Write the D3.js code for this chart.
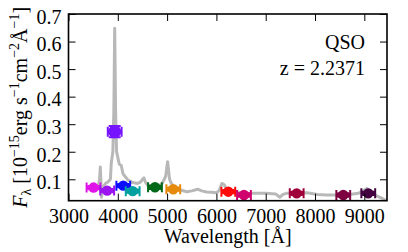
<!DOCTYPE html>
<html>
<head>
<meta charset="utf-8">
<script src="https://cdn.jsdelivr.net/npm/d3@7"></script>
</head>
<body style="margin:0">
<svg width="408" height="252"></svg>
<script>
/*global d3*/

// spectrum
var specWave = [3560, 3600, 3630, 3645, 3660, 3668, 3700, 3750, 3800, 3850, 3868, 3900, 3920, 3937, 3955,
  3975, 4030, 4070, 4105, 4207, 4300, 4400, 4460, 4500, 4530, 4560, 4600, 4700, 4800, 4900, 4970, 5010,
  5050, 5080, 5150, 5270, 5400, 5500, 5620, 5700, 5800, 5900, 6000, 6060, 6110, 6160, 6200, 6300, 6400,
  6500, 6700, 7000, 7200, 7290, 7350, 7420, 7600, 7830, 7900, 8050, 8240, 8500, 8700, 8880, 8950, 9050,
  9150, 9250, 9350, 9420, 9460]
var specFlux = [0.060, 0.070, 0.100, 0.145, 0.080, 0.035, 0.070, 0.085, 0.090, 0.100, 0.160, 0.200, 0.350, 0.648, 0.350,
  0.200, 0.155, 0.150, 0.120, 0.097, 0.088, 0.085, 0.090, 0.100, 0.105, 0.090, 0.079, 0.075, 0.072, 0.085, 0.110, 0.164,
  0.100, 0.087, 0.070, 0.061, 0.055, 0.058, 0.064, 0.058, 0.054, 0.053, 0.051, 0.060, 0.085, 0.080, 0.065, 0.058, 0.055,
  0.050, 0.049, 0.049, 0.047, 0.035, 0.045, 0.049, 0.050, 0.051, 0.049, 0.045, 0.043, 0.043, 0.045, 0.049, 0.055, 0.067,
  0.055, 0.040, 0.032, 0.025, 0.020]

// photometric points
var photWave = [3507, 3785, 3937, 4111, 4302, 4754, 5125, 6241, 6559, 7628, 8573, 9080]
var photFlux = [0.070, 0.059, 0.273, 0.077, 0.057, 0.071, 0.064, 0.055, 0.043, 0.049, 0.043, 0.049]
var photWaveErr = [140, 140, 140, 140, 140, 140, 140, 140, 140, 140, 140, 140]
var photFluxErr = [0.006, 0.006, 0.02, 0.006, 0.006, 0.006, 0.006, 0.006, 0.006, 0.006, 0.006, 0.006]
var photColor = ['#e014e8', '#9c14f0', '#7614ff', '#0c0cff', '#00a0a0', '#006818',
  '#e68a0c', '#ff0a0a', '#d0006e', '#a0003a', '#7e0040', '#420040']

var xTicks = [3000, 4000, 5000, 6000, 7000, 8000, 9000]
var yTicks = [0.1, 0.2, 0.3, 0.4, 0.5, 0.6, 0.7]

var FONT = "'Liberation Serif'"

var svg = d3.select('svg')
var margin = { left: 68.5, right: 21, top: 14, bottom: 51.3 }
var w = 408 - margin.left - margin.right
var h = 252 - margin.top - margin.bottom

var x = d3.scaleLinear().domain([3000, 9460]).range([0, w])
var y = d3.scaleLinear().domain([0.0223, 0.7]).range([h, 0])

var g = svg.append('g').attr('transform', 'translate(' + margin.left + ',' + margin.top + ')')

g.append('defs').append('clipPath').attr('id', 'clip')
  .append('rect').attr('width', w).attr('height', h)

var plot = g.append('g').attr('clip-path', 'url(#clip)')

var line = d3.line()
  .x(function (d) { return x(d[0]) })
  .y(function (d) { return y(d[1]) })

plot.append('path')
  .datum(d3.zip(specWave, specFlux))
  .attr('fill', 'none')
  .attr('stroke', '#b8b8b8')
  .attr('stroke-width', 3)
  .attr('stroke-linejoin', 'round')
  .attr('d', line)

// error bars + markers
var pts = plot.selectAll('.pt')
  .data(d3.range(photWave.length))
  .enter().append('g')
  .attr('class', 'pt')
  .attr('stroke', function (i) { return photColor[i] })
  .attr('fill', function (i) { return photColor[i] })

var cap = 5
pts.append('line')
  .attr('x1', function (i) { return x(photWave[i] - photWaveErr[i]) })
  .attr('x2', function (i) { return x(photWave[i] + photWaveErr[i]) })
  .attr('y1', function (i) { return y(photFlux[i]) })
  .attr('y2', function (i) { return y(photFlux[i]) })
  .attr('stroke-width', 4)
pts.selectAll('.xcap')
  .data(function (i) { return [[i, -1], [i, 1]] })
  .enter().append('line')
  .attr('x1', function (d) { return x(photWave[d[0]] + d[1] * photWaveErr[d[0]]) })
  .attr('x2', function (d) { return x(photWave[d[0]] + d[1] * photWaveErr[d[0]]) })
  .attr('y1', function (d) { return y(photFlux[d[0]]) - cap })
  .attr('y2', function (d) { return y(photFlux[d[0]]) + cap })
  .attr('stroke-width', 2)
pts.append('line')
  .attr('x1', function (i) { return x(photWave[i]) })
  .attr('x2', function (i) { return x(photWave[i]) })
  .attr('y1', function (i) { return y(photFlux[i] - photFluxErr[i]) })
  .attr('y2', function (i) { return y(photFlux[i] + photFluxErr[i]) })
  .attr('stroke-width', 2.5)
pts.selectAll('.ycap')
  .data(function (i) { return [[i, -1], [i, 1]] })
  .enter().append('line')
  .attr('x1', function (d) { return x(photWave[d[0]]) - cap - 1 })
  .attr('x2', function (d) { return x(photWave[d[0]]) + cap + 1 })
  .attr('y1', function (d) { return y(photFlux[d[0]] + d[1] * photFluxErr[d[0]]) })
  .attr('y2', function (d) { return y(photFlux[d[0]] + d[1] * photFluxErr[d[0]]) })
  .attr('stroke-width', 2)
pts.append('circle')
  .attr('cx', function (i) { return x(photWave[i]) })
  .attr('cy', function (i) { return y(photFlux[i]) })
  .attr('r', function (i) { return photFluxErr[i] > 0.01 ? 6.5 : 5.2 })
  .attr('stroke', 'none')

// axes, ticks inward on all sides
function styleAxis (sel) {
  sel.attr('font-family', null).attr('font-size', null)
  sel.select('.domain').remove()
  sel.selectAll('line').attr('stroke', '#000')
  sel.selectAll('text').attr('fill', '#000')
    .style('font-family', FONT).style('font-size', '20px')
}
var xb = g.append('g').attr('transform', 'translate(0,' + h + ')')
  .call(d3.axisBottom(x).tickValues(xTicks).tickSize(-7).tickFormat(d3.format('d')))
xb.selectAll('text').attr('dy', null).attr('y', 22.3)
styleAxis(xb)
styleAxis(g.append('g')
  .call(d3.axisTop(x).tickValues(xTicks).tickSize(-7).tickFormat('')))
var yl = g.append('g')
  .call(d3.axisLeft(y).tickValues(yTicks).tickSize(-7).tickFormat(d3.format('.1f')))
yl.selectAll('text').attr('dy', null).attr('x', -7).attr('y', 9.3)
styleAxis(yl)
styleAxis(g.append('g').attr('transform', 'translate(' + w + ',0)')
  .call(d3.axisRight(y).tickValues(yTicks).tickSize(-7).tickFormat('')))

g.append('rect')
  .attr('width', w).attr('height', h)
  .attr('fill', 'none').attr('stroke', '#000').attr('stroke-width', 1.6)

// labels
function label (sel) {
  return sel.style('font-family', FONT).style('font-size', '20px')
}
label(svg.append('text'))
  .attr('x', margin.left + w / 2).attr('y', 243)
  .attr('text-anchor', 'middle')
  .text('Wavelength [Å]')

var yLab = label(svg.append('text'))
  .attr('transform', 'translate(26.5,' + (margin.top + h / 2) + ') rotate(-90)')
  .attr('text-anchor', 'middle')
yLab.append('tspan').style('font-style', 'italic').text('F')
yLab.append('tspan').style('font-size', '14px').attr('dy', 4).text('λ')
yLab.append('tspan').attr('dy', -4).text(' [10')
yLab.append('tspan').style('font-size', '14px').attr('dy', -8).text('−15')
yLab.append('tspan').attr('dy', 8).text('erg s')
yLab.append('tspan').style('font-size', '14px').attr('dy', -8).text('−1')
yLab.append('tspan').attr('dy', 8).text('cm')
yLab.append('tspan').style('font-size', '14px').attr('dy', -8).text('−2')
yLab.append('tspan').attr('dy', 8).text('Å')
yLab.append('tspan').style('font-size', '14px').attr('dy', -8).text('−1')
yLab.append('tspan').attr('dy', 8).text(']')

label(svg.append('text'))
  .attr('x', 365).attr('y', 49).attr('text-anchor', 'end')
  .text('QSO')
label(svg.append('text'))
  .attr('x', 365).attr('y', 75).attr('text-anchor', 'end')
  .text('z = 2.2371')
</script>
</body>
</html>
